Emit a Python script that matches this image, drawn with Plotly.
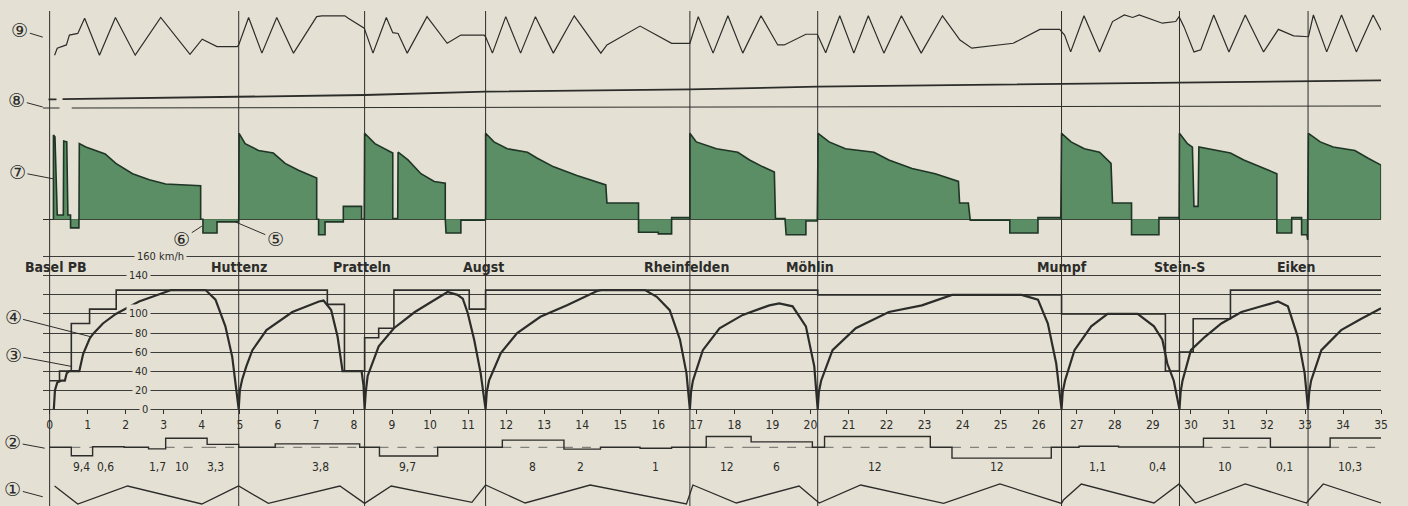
import plotly.graph_objects as go

# stations along the line (km) and their names
station_km = [0, 4.97, 8.28, 11.46, 16.83, 20.19, 26.6, 29.7, 33.08]
station_names = ["Basel PB", "Huttenz", "Pratteln", "Augst", "Rheinfelden",
                 "Möhlin", "Mumpf", "Stein-S", "Eiken"]
name_shift = [6, 0, -3, -2, -3, -8, 0, 0, -12]  # small label nudges, px

# (4) actual speed, km/h
speed_km = [0.11, 0.14, 0.2, 0.3, 0.4, 0.45, 0.52, 0.78, 0.88, 1.05, 1.14, 1.4, 1.74, 2.35, 3.05, 3.2, 4.1, 4.36, 4.62, 4.8, 4.97,
            5.0, 5.06, 5.17, 5.33, 5.7, 6.38, 7.08, 7.2, 7.4, 7.57, 7.7, 8.2, 8.25, 8.28,
            8.31, 8.36, 8.65, 9.05, 9.6, 10.05, 10.46, 10.72, 10.86, 10.99, 11.16, 11.33, 11.46,
            11.49, 11.55, 11.86, 12.29, 12.9, 13.6, 14.39, 14.5, 15.65, 15.96, 16.3, 16.57, 16.74, 16.83,
            16.86, 16.91, 17.17, 17.61, 18.22, 18.92, 19.18, 19.53, 19.88, 20.1, 20.19,
            20.22, 20.28, 20.58, 21.19, 22.06, 22.93, 23.37, 23.72, 25.55, 25.98, 26.24, 26.46, 26.6,
            26.63, 26.69, 26.94, 27.38, 27.81, 28.6, 29.03, 29.25, 29.38, 29.55, 29.7,
            29.73, 29.78, 30.0, 30.37, 30.8, 31.33, 31.85, 32.29, 32.55, 32.81, 32.99, 33.08,
            33.11, 33.16, 33.43, 33.95, 34.48, 35.0]
speed_kmh = [0, 20, 28, 30, 30, 38, 40, 40, 58, 74, 79, 90, 100, 113, 123, 125, 125, 115, 87, 55, 0,
             20, 31, 45, 62, 83, 102, 113, 114, 104, 76, 40, 40, 25, 0,
             18, 35, 66, 85, 102, 113, 123, 120, 116, 101, 73, 38, 0,
             18, 30, 59, 80, 97, 109, 124, 125, 125, 118, 104, 73, 38, 0,
             18, 30, 62, 85, 99, 109, 111, 108, 87, 45, 0,
             18, 30, 62, 85, 102, 109, 115, 120, 120, 115, 90, 48, 0,
             18, 30, 62, 87, 100, 100, 87, 73, 48, 30, 0,
             18, 30, 62, 76, 90, 102, 108, 113, 108, 76, 38, 0,
             18, 30, 62, 83, 95, 106]

# (3) permitted speed, km/h, steps starting at limit_start
limit_start = [0, 0.26, 0.57, 1.05, 1.75, 7.3, 7.75, 8.28, 8.65, 9.05, 11.03, 11.46,
               20.19, 26.6, 29.33, 29.7, 30.06, 31.04]
limit_kmh = [30, 40, 90, 105, 125, 110, 40, 75, 85, 125, 105, 125,
             120, 100, 40, 60, 95, 125]
limit_end = 35.0

# (7) tractive effort, (6) braking, (5) coasting
effort_km = [0.1, 0.1, 0.14, 0.2, 0.36, 0.37, 0.45, 0.48, 0.55, 0.55, 0.77, 0.77, 0.78, 0.95, 1.31, 1.46, 1.74, 2.18, 2.62, 3.05, 3.97,
             3.97, 4.03, 4.03, 4.4, 4.4, 4.97, 4.97,
             4.98, 5.14, 5.49, 5.88, 6.19, 6.54, 7.02, 7.02, 7.07, 7.07, 7.24, 7.24, 7.72, 7.72, 8.2, 8.2, 8.27,
             8.28, 8.55, 8.98, 9.02, 9.02, 9.15, 9.16, 9.42, 9.76, 10.11, 10.4, 10.4, 10.42, 10.81, 10.81, 11.44, 11.46,
             11.46, 11.68, 12.03, 12.56, 12.82, 13.25, 13.86, 14.62, 14.65, 15.48, 15.48, 16.0, 16.0, 16.35, 16.35, 16.83, 16.83,
             16.83, 17.0, 17.53, 18.09, 18.4, 18.75, 19.05, 19.08, 19.33, 19.36, 19.88, 19.88, 20.18, 20.18,
             20.2, 20.49, 20.92, 21.67, 22.06, 22.67, 23.28, 23.89, 23.92, 24.15, 24.2, 25.24, 25.24, 25.98, 25.98, 26.58, 26.58,
             26.6, 26.85, 27.2, 27.6, 27.9, 27.94, 28.44, 28.44, 29.16, 29.16, 29.69, 29.69,
             29.7, 29.91, 30.04, 30.08, 30.19, 30.21, 30.69, 31.04, 31.39, 31.83, 32.26, 32.26, 32.65, 32.65, 32.91, 32.91, 33.05, 33.07, 33.07,
             33.09, 33.4, 33.74, 34.31, 34.66, 35.0, 35.0]
effort_val = [0, 98, 96, 5, 5, 91, 90, 5, 5, -10, -10, 0, 88, 84, 78, 76, 65, 53, 46, 41, 39,
              0, 0, -16, -16, -3, -3, 0,
              100, 88, 80, 77, 65, 57, 48, 0, 0, -18, -18, -3, -3, 15, 15, 0, 0,
              100, 88, 78, 77, 1, 1, 78, 69, 53, 44, 42, 0, -16, -16, -1, -1, 0,
              100, 90, 82, 78, 71, 61, 51, 40, 19, 19, -15, -15, -17, -17, 2, 2, 0,
              100, 90, 82, 78, 69, 61, 55, 1, 1, -18, -18, -2, -2, 0,
              100, 90, 82, 78, 69, 59, 53, 44, 19, 19, -1, -1, -16, -16, 2, 2, 0,
              100, 90, 82, 78, 65, 19, 19, -18, -18, 2, 2, 0,
              100, 88, 84, 15, 15, 84, 80, 77, 69, 61, 53, -16, -16, 2, 2, -18, -18, -24, 0,
              100, 90, 84, 80, 71, 63, 0]

# (9) upper zigzag curve
curve9_km = [0.13, 0.2, 0.44, 0.52, 0.74, 0.92, 1.31, 1.73, 2.25, 2.92, 3.69, 4.01, 4.4, 4.93,
             4.97, 5.23, 5.58, 5.97, 6.41, 7.02, 7.15, 7.76, 7.85, 8.19, 8.27,
             8.5, 8.85, 9.02, 9.16, 9.4, 9.92, 10.45, 10.81, 11.42,
             11.46, 11.64, 11.99, 12.38, 12.77, 13.24, 13.79, 14.49, 14.65, 15.52, 16.35, 16.83,
             17.05, 17.44, 17.83, 18.22, 18.7, 19.14, 19.31, 19.88, 20.18,
             20.4, 20.77, 21.14, 21.52, 21.93, 22.39, 22.91, 23.47, 23.93, 24.24, 25.33, 26.03, 26.55, 26.68,
             26.84, 27.19, 27.6, 27.94, 28.25, 28.47, 28.64, 29.25, 29.6, 29.69,
             29.82, 30.08, 30.26, 30.6, 31.0, 31.43, 31.91, 32.3, 32.7, 33.09,
             33.22, 33.57, 33.96, 34.35, 34.79, 35.0]
curve9_val = [2, 19, 27, 51, 55, 92, 2, 94, 2, 94, 4, 41, 23, 23,
              27, 94, 7, 94, 7, 96, 98, 98, 92, 71, 68,
              7, 94, 57, 55, 7, 96, 31, 51, 51,
              47, 7, 96, 7, 96, 7, 98, 7, 27, 73, 31, 31,
              96, 7, 98, 7, 98, 27, 27, 53, 53,
              8, 98, 7, 98, 7, 98, 7, 98, 39, 19, 31, 65, 65, 51,
              10, 98, 10, 84, 100, 94, 100, 80, 84, 96,
              71, 10, 15, 100, 10, 100, 10, 65, 49, 47,
              100, 10, 100, 10, 100, 63]

# (8) rising line and its reference line
line8_km = [-0.03, 0.18, None, 0.34, 4.97, 8.28, 11.46, 16.83, 20.19, 26.2, 29.7, 35.0]
line8_val = [8.7, 8.7, None, 8.8, 11.3, 13.0, 16.3, 18.7, 21.3, 24.0, 25.7, 27.7]
base8_km = [-0.18, 0.26, None, 0.58, 35.0]
base8_val = [0, 0, None, 0, 2]

# (2) gradients in per mille, between grad_breaks
grad_breaks = [0, 0.57, 1.13, 1.96, 2.6, 3.05, 4.14, 4.97, 5.93, 8.15, 8.67, 10.2, 11.9, 13.52, 14.48,
               15.52, 16.35, 17.26, 18.44, 20.05, 20.37, 23.15, 23.72, 26.33, 27.06, 28.1, 30.33, 32.09, 33.66, 35.0]
grad_permille = [0, -9.4, 0.6, 0, -1.7, 10, 3.3, 0, 3.8, 0, -9.7, 0, 8, -2,
                 0, -1, 0, 12, 6, 0, 12, 0, -12, 0, 1.1, 0.4, 10, 0.1, 10.3]
grad_label_km = [0.84, 1.48, 2.83, 3.49, 4.36, 7.11, 9.42, 12.69, 13.96, 15.92, 17.8, 19.11, 21.69,
                 24.9, 27.55, 29.12, 30.9, 32.47, 34.17]
grad_label_text = ["9,4", "0,6", "1,7", "10", "3,3", "3,8", "9,7", "8", "2", "1", "12", "6", "12",
                   "12", "1,1", "0,4", "10", "0,1", "10,3"]

# (1) lower profile curve
profile_km = [0.13, 0.74, 2.05, 4.0, 4.93, 4.97, 5.75, 7.63, 8.28, 8.98, 11.1, 11.46, 12.5, 14.21, 16.74,
              16.91, 18.05, 19.7, 20.23, 21.32, 23.5, 24.98, 26.6, 26.65, 27.12, 29.03, 29.69, 30.12,
              31.43, 33.04, 33.1, 33.48, 35.0]
profile_val = [90, 0, 90, 0, 87, 90, 3, 90, 3, 90, 8, 95, 5, 95, 0,
               95, 5, 90, 5, 95, 3, 100, 3, 20, 100, 5, 100, 5,
               100, 5, 20, 100, 5]

speed_grid = [0, 20, 40, 60, 80, 100, 120, 140, 160]
speed_grid_labels = ["0", "20", "40", "60", "80", "100", "", "140", "160 km/h"]

bg = "#e4e1d4"
ink = "#2c2c2a"
green = "#5b8e64"
font = "Liberation Sans Narrow, DejaVu Sans Condensed, Roboto Condensed, Liberation Sans, sans-serif"
H = 506


def axis_range(v0, p0, v1, p1):
    # range so that value v0 sits at pixel row p0 and v1 at p1
    s = (p0 - p1) / (v1 - v0)
    return [v0 - (H - p0) / s, v0 + p0 / s]


fig = go.Figure()

# (7) effort area
fig.add_trace(go.Scatter(x=effort_km, y=effort_val, yaxis="y2", mode="lines", fill="tozeroy",
                         fillcolor=green, line=dict(color="#1f3526", width=1.6), hoverinfo="skip"))
# (9)
fig.add_trace(go.Scatter(x=curve9_km, y=curve9_val, yaxis="y3", mode="lines",
                         line=dict(color=ink, width=1.2)))
# (8)
fig.add_trace(go.Scatter(x=line8_km, y=line8_val, yaxis="y4", mode="lines",
                         line=dict(color=ink, width=1.8)))
fig.add_trace(go.Scatter(x=base8_km, y=base8_val, yaxis="y4", mode="lines",
                         line=dict(color=ink, width=1)))
# (3) permitted speed
fig.add_trace(go.Scatter(x=limit_start + [limit_end], y=limit_kmh + [limit_kmh[-1]], yaxis="y",
                         mode="lines", line=dict(color=ink, width=1.6, shape="hv")))
# (4) actual speed
fig.add_trace(go.Scatter(x=speed_km, y=speed_kmh, yaxis="y", mode="lines",
                         line=dict(color=ink, width=2.2)))

# (2) gradient profile with dashed level line below/above the steep parts
dash_x, dash_y = [], []
for i, g in enumerate(grad_permille):
    if abs(g) >= 2:
        dash_x += [grad_breaks[i], grad_breaks[i + 1], None]
        dash_y += [0, 0, None]
fig.add_trace(go.Scatter(x=dash_x, y=dash_y, yaxis="y5", mode="lines",
                         line=dict(color="#6a6a66", width=1, dash="dash")))
fig.add_trace(go.Scatter(x=grad_breaks, y=grad_permille + [grad_permille[-1]], yaxis="y5",
                         mode="lines", line=dict(color=ink, width=1.4, shape="hv")))
# (1)
fig.add_trace(go.Scatter(x=profile_km, y=profile_val, yaxis="y6", mode="lines",
                         line=dict(color=ink, width=1.3)))

# station lines
for km in station_km:
    fig.add_shape(type="line", xref="x", yref="paper", x0=km, x1=km, y0=0, y1=1 - 11 / H,
                  line=dict(color=ink, width=1))

annotations = []
for km, name, dx in zip(station_km, station_names, name_shift):
    annotations.append(dict(x=km, y=149, xref="x", yref="y", text=name, showarrow=False,
                            xshift=dx, font=dict(size=14, color=ink, family=font, weight="bold")))

for v, txt in zip(speed_grid, speed_grid_labels):
    if not txt:
        continue
    wide = "km/h" in txt
    annotations.append(dict(x=2.22 if wide else 2.67, y=v, xref="x", yref="y", text=txt,
                            showarrow=False, xanchor="left" if wide else "right",
                            bgcolor=bg, borderpad=2, font=dict(size=11, color=ink, family=font)))

for km, txt in zip(grad_label_km, grad_label_text):
    annotations.append(dict(x=km, y=-22, xref="x", yref="y5", text=txt, showarrow=False,
                            font=dict(size=12, color=ink, family=font)))

annotations.append(dict(x=-0.52, y=-14.4, xref="x", yref="y", text="Km", showarrow=False,
                        font=dict(size=11, color=ink, family=font)))

# circled curve numbers with leader lines
markers = [
    ("⑨", -0.18, 46, "y3", -23, -7),
    ("⑧", -0.18, 1, "y4", -26, -7),
    ("⑦", 0.1, 47, "y2", -36, -7),
    ("⑥", 4.0, -8, "y2", -20, 13),
    ("⑤", 4.88, -3, "y2", 40, 17),
    ("④", 1.09, 76, "y", -78, -20),
    ("③", 0.57, 45, "y", -58, -11),
    ("②", -0.13, -1, "y5", -32, -6),
    ("①", -0.18, 36, "y6", -30, -8),
]
for txt, km, v, yr, ax, ay in markers:
    annotations.append(dict(x=km, y=v, xref="x", yref=yr, text=txt, showarrow=True,
                            arrowhead=0, arrowwidth=1, arrowcolor=ink, ax=ax, ay=ay,
                            font=dict(size=19, color=ink, family="DejaVu Sans")))

hidden = dict(overlaying="y", domain=[0, 1], visible=False, fixedrange=True)
fig.update_layout(
    width=1408, height=H,
    margin=dict(l=0, r=0, t=0, b=0),
    paper_bgcolor=bg, plot_bgcolor=bg,
    showlegend=False,
    font=dict(family=font, color=ink),
    xaxis=dict(domain=[43 / 1408, 1388 / 1408], range=[-0.18, 35.0], anchor="free",
               position=(H - 409.3) / H, tickvals=list(range(36)), ticks="outside", ticklen=4,
               tickcolor=ink, showgrid=False, zeroline=False, showline=False,
               tickfont=dict(size=12, color=ink, family=font)),
    yaxis=dict(domain=[0, 1], range=axis_range(0, 409.3, 160, 256.7), tickvals=speed_grid,
               showgrid=True, gridcolor="#3c3c3a", gridwidth=1, showticklabels=False,
               zeroline=False, ticks=""),
    yaxis2=dict(overlaying="y", domain=[0, 1], range=axis_range(0, 219.3, 100, 133.3),
                showgrid=False, showticklabels=False, ticks="", zeroline=True,
                zerolinecolor=ink, zerolinewidth=1.4),
    yaxis3=dict(hidden, range=axis_range(0, 56, 100, 15)),
    yaxis4=dict(hidden, range=axis_range(0, 108, 10, 98)),
    yaxis5=dict(hidden, range=axis_range(0, 447.3, 10, 438.3)),
    yaxis6=dict(hidden, range=axis_range(0, 504, 100, 484)),
    annotations=annotations,
)

# page body margin would push the figure out of the window
fig.write_html("out.html", config={"displayModeBar": False},
               post_script="document.body.style.margin='0';"
                           "document.body.style.background='" + bg + "';")
